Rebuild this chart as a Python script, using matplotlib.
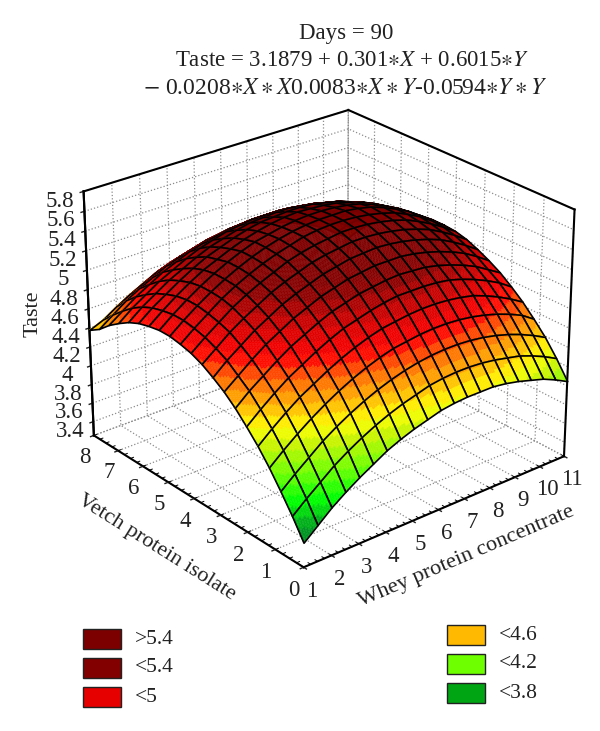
import numpy as np
import matplotlib
matplotlib.use("Agg")
import matplotlib.pyplot as plt
from matplotlib.colors import LinearSegmentedColormap, Normalize
from matplotlib.patches import Rectangle
from mpl_toolkits.mplot3d.art3d import Poly3DCollection

plt.rcParams['font.family'] = ['Liberation Serif', 'DejaVu Serif']
plt.rcParams['mathtext.fontset'] = 'stix'

# Surface nodes: whey protein 1..11 in 20 steps across, vetch protein 0..8 in 20 steps down.
whey = [1, 1.5, 2, 2.5, 3, 3.5, 4, 4.5, 5, 5.5, 6, 6.5, 7, 7.5, 8, 8.5, 9, 9.5, 10, 10.5, 11]
vetch = [0, .4, .8, 1.2, 1.6, 2, 2.4, 2.8, 3.2, 3.6, 4, 4.4, 4.8, 5.2, 5.6, 6, 6.4, 6.8, 7.2, 7.6, 8]
taste = [
 [3.50,3.62,3.74,3.84,3.93,4.01,4.09,4.15,4.20,4.24,4.28,4.30,4.31,4.31,4.31,4.29,4.26,4.22,4.18,4.12,4.05],
 [3.70,3.82,3.93,4.04,4.13,4.21,4.28,4.34,4.39,4.43,4.47,4.49,4.50,4.50,4.49,4.47,4.44,4.41,4.36,4.30,4.23],
 [3.88,4.00,4.11,4.22,4.31,4.39,4.46,4.52,4.57,4.61,4.64,4.66,4.67,4.67,4.66,4.64,4.61,4.57,4.52,4.46,4.39],
 [4.05,4.17,4.28,4.38,4.47,4.55,4.62,4.68,4.73,4.77,4.79,4.81,4.82,4.82,4.81,4.79,4.76,4.72,4.67,4.61,4.52],
 [4.20,4.32,4.43,4.53,4.61,4.69,4.76,4.82,4.87,4.91,4.93,4.95,4.96,4.96,4.95,4.93,4.90,4.85,4.79,4.72,4.64],
 [4.33,4.45,4.56,4.66,4.74,4.82,4.89,4.95,4.99,5.03,5.06,5.08,5.08,5.08,5.07,5.05,5.01,4.96,4.90,4.83,4.74],
 [4.45,4.57,4.67,4.77,4.86,4.93,5.00,5.06,5.10,5.14,5.16,5.18,5.19,5.18,5.17,5.14,5.10,5.05,4.99,4.91,4.83],
 [4.55,4.66,4.77,4.87,4.95,5.03,5.09,5.15,5.19,5.23,5.25,5.27,5.27,5.27,5.25,5.22,5.18,5.13,5.07,4.99,4.90],
 [4.63,4.75,4.85,4.95,5.03,5.11,5.17,5.22,5.27,5.30,5.33,5.34,5.35,5.34,5.32,5.29,5.25,5.20,5.13,5.05,4.96],
 [4.70,4.81,4.92,5.01,5.09,5.17,5.23,5.28,5.33,5.36,5.38,5.40,5.40,5.39,5.37,5.34,5.30,5.25,5.18,5.10,5.01],
 [4.75,4.86,4.96,5.06,5.14,5.21,5.27,5.33,5.37,5.40,5.42,5.44,5.44,5.43,5.41,5.38,5.34,5.28,5.21,5.13,5.04],
 [4.78,4.89,4.99,5.09,5.17,5.24,5.30,5.35,5.39,5.43,5.45,5.46,5.46,5.45,5.43,5.40,5.36,5.30,5.23,5.14,5.05],
 [4.80,4.91,5.01,5.10,5.18,5.25,5.31,5.36,5.40,5.43,5.45,5.46,5.46,5.46,5.44,5.41,5.36,5.30,5.23,5.14,5.05],
 [4.80,4.91,5.01,5.10,5.18,5.25,5.31,5.36,5.39,5.42,5.44,5.45,5.45,5.44,5.42,5.39,5.34,5.28,5.21,5.12,5.03],
 [4.78,4.89,4.99,5.08,5.16,5.22,5.28,5.33,5.37,5.40,5.42,5.43,5.42,5.41,5.39,5.35,5.31,5.25,5.17,5.08,4.99],
 [4.75,4.86,4.95,5.04,5.12,5.19,5.24,5.29,5.33,5.36,5.37,5.38,5.38,5.37,5.34,5.31,5.26,5.20,5.12,5.03,4.94],
 [4.70,4.81,4.90,4.99,5.06,5.13,5.19,5.23,5.27,5.30,5.31,5.32,5.32,5.30,5.28,5.24,5.19,5.13,5.06,4.96,4.87],
 [4.63,4.74,4.83,4.92,4.99,5.06,5.12,5.16,5.20,5.22,5.24,5.24,5.24,5.22,5.20,5.16,5.11,5.05,4.97,4.88,4.78],
 [4.55,4.65,4.75,4.83,4.91,4.97,5.03,5.07,5.10,5.13,5.14,5.15,5.14,5.13,5.10,5.07,5.01,4.95,4.87,4.77,4.68],
 [4.45,4.55,4.65,4.73,4.80,4.87,4.92,4.96,5.00,5.02,5.03,5.04,5.03,5.01,4.99,4.95,4.89,4.83,4.75,4.66,4.56],
 [4.38,4.44,4.53,4.61,4.68,4.75,4.80,4.84,4.87,4.90,4.91,4.91,4.90,4.89,4.86,4.82,4.76,4.70,4.62,4.52,4.42],
]
whey_ticks = [1, 2, 3, 4, 5, 6, 7, 8, 9, 10, 11]
vetch_ticks = [0, 1, 2, 3, 4, 5, 6, 7, 8]
taste_ticks = [3.4, 3.6, 3.8, 4, 4.2, 4.4, 4.6, 4.8, 5, 5.2, 5.4, 5.6, 5.8]
taste_labels = ['3.4', '3.6', '3.8', '4', '4.2', '4.4', '4.6', '4.8', '5', '5.2', '5.4', '5.6', '5.8']
legend_left = ['>5.4', '<5.4', '<5']
legend_left_colors = ['#7d0000', '#820000', '#e60000']
legend_right = ['<4.6', '<4.2', '<3.8']
legend_right_colors = ['#ffb900', '#6eff00', '#00a514']
band_levels = [3.4, 3.6, 3.8, 4.0, 4.2, 4.32, 4.48, 4.62, 4.78, 4.98, 5.18, 5.6]
band_colors = ['#006e32', '#00a01e', '#00ff00', '#6eff00', '#c8f500', '#ffff00',
               '#ffb400', '#ff6e00', '#ff0000', '#d20000', '#870000', '#780000']

W, H = 600, 731
fig = plt.figure(figsize=(W / 100, H / 100), dpi=100, facecolor='white')
S = 538
ax = fig.add_axes([51 / W, (H - 602) / H, S / W, S / H], projection='3d', computed_zorder=False)
ax.set_proj_type('persp', focal_length=0.95)
ax.view_init(elev=26.0, azim=-129.7)
ax.set_box_aspect((1, 1, 0.80))
ZLO, ZHI = 3.25, 5.8
ax.set_xlim(1, 11, view_margin=0)
ax.set_ylim(0, 8, view_margin=0)
ax.set_zlim(ZLO, ZHI, view_margin=0)
ax.patch.set_alpha(0)

ink = '#222222'
ax.set_xticks(whey_ticks)
ax.set_yticks(vetch_ticks)
ax.set_zticks(taste_ticks)
ax.set_zticklabels(taste_labels)
ax.set_xticklabels([str(v) for v in whey_ticks])
ax.set_yticklabels([str(v) for v in vetch_ticks])
ax.tick_params(labelsize=16.5, pad=-1, colors=ink)
ax.tick_params(axis='z', pad=2)
ax.set_xlabel('Whey protein concentrate', fontsize=16.2, labelpad=4, color=ink)
ax.set_ylabel('Vetch protein isolate', fontsize=16, labelpad=7, color=ink)
ax.zaxis.set_rotate_label(False)
ax.set_zlabel('Taste', fontsize=16, labelpad=3, rotation=90, color=ink)
for a in (ax.xaxis, ax.yaxis, ax.zaxis):
    a.set_pane_color((1, 1, 1, 0))
    a.pane.set_edgecolor((1, 1, 1, 0))
    a.line.set_color('black')
    a.line.set_linewidth(1.5)
    a._axinfo['grid'].update(color='#8c8c8c', linewidth=0.9, linestyle=':')
    a._axinfo['tick'].update(inward_factor=0.15, outward_factor=0.0)
    a._axinfo['tick']['linewidth'] = {True: 1.0, False: 0.6}
    a._axinfo['tick']['color'] = 'black'

edge = dict(color='black', lw=1.5, zorder=0.5)
ax.plot([11, 11], [0, 0], [ZLO, ZHI], **edge)
ax.plot([1, 1], [8, 8], [ZLO, ZHI], **edge)
ax.plot([1, 11], [8, 8], [ZHI, ZHI], **edge)
ax.plot([11, 11], [0, 8], [ZHI, ZHI], **edge)
soft = dict(color='#8c8c8c', lw=0.9, ls=':', zorder=0.4)
ax.plot([11, 11], [8, 8], [ZLO, ZHI], **soft)
ax.plot([1, 11], [8, 8], [ZLO, ZLO], **soft)
ax.plot([11, 11], [0, 8], [ZLO, ZLO], **soft)
# small ticks between the numbered ones
tick_minor = dict(color='black', lw=0.7, zorder=0.45)
for t in np.arange(1, 11.01, 0.25):
    ax.plot([t, t], [0, 0.09], [ZLO, ZLO], **tick_minor)
for t in np.arange(0, 8.01, 0.25):
    ax.plot([1, 1.11], [t, t], [ZLO, ZLO], **tick_minor)

cmap = LinearSegmentedColormap.from_list(
    'taste', [((l - band_levels[0]) / (band_levels[-1] - band_levels[0]), c)
              for l, c in zip(band_levels, band_colors)])
norm = Normalize(band_levels[0], band_levels[-1])

X = np.array(whey, float)
Y = np.array(vetch, float)
Z = np.array(taste, float)
N = 8
BAND = 0.08
w = np.linspace(0, 1, N + 1)
order = 1
for j in range(len(Y) - 2, -1, -1):
    for i in range(len(X) - 2, -1, -1):
        # shade one drawn cell: its corners are the table values, colour is stepped in bands
        polys, cols = [], []
        xs = X[i] + w * (X[i + 1] - X[i])
        ys = Y[j] + w * (Y[j + 1] - Y[j])
        zc = (Z[j, i] * np.outer(1 - w, 1 - w) + Z[j, i + 1] * np.outer(1 - w, w)
              + Z[j + 1, i] * np.outer(w, 1 - w) + Z[j + 1, i + 1] * np.outer(w, w))
        for a in range(N):
            for b in range(N):
                polys.append([(xs[b], ys[a], zc[a, b]), (xs[b + 1], ys[a], zc[a, b + 1]),
                              (xs[b + 1], ys[a + 1], zc[a + 1, b + 1]), (xs[b], ys[a + 1], zc[a + 1, b])])
                m = zc[a:a + 2, b:b + 2].mean()
                cols.append(cmap(norm(np.floor(m / BAND) * BAND + BAND / 2)))
        pc = Poly3DCollection(polys, facecolors=cols, edgecolors=cols, linewidths=0.25, zorder=order)
        ax.add_collection3d(pc, autolim=False)
        outline = [[(X[i], Y[j], Z[j, i]), (X[i + 1], Y[j], Z[j, i + 1]),
                    (X[i + 1], Y[j + 1], Z[j + 1, i + 1]), (X[i], Y[j + 1], Z[j + 1, i])]]
        ec = Poly3DCollection(outline, facecolors=(0, 0, 0, 0), edgecolors='black', linewidths=1.2, zorder=order + 0.5)
        ax.add_collection3d(ec, autolim=False)
        order += 1

# title
fig.text(346 / W, 1 - 33 / H, 'Days = 90', ha='center', va='center', fontsize=16.5, color=ink)
fig.text(352 / W, 1 - 61 / H, r'Taste = 3.1879 + 0.301$\ast X$ + 0.6015$\ast Y$', ha='center', va='center', fontsize=16.5, color=ink)
fig.text(345 / W, 1 - 88 / H, r'$-$ 0.0208$\ast X\ast X$0.0083$\ast X\ast Y$-0.0594$\ast Y\ast Y$', ha='center', va='center', fontsize=17, color=ink)

# legend
rows_left = [639, 668, 697]
rows_right = [635, 664, 693]
for lab, col, yy in zip(legend_left, legend_left_colors, rows_left):
    fig.patches.append(Rectangle((83 / W, 1 - (yy + 10) / H), 38 / W, 20 / H, transform=fig.transFigure,
                                 facecolor=col, edgecolor='#222222', lw=1.0))
    fig.text(135 / W, 1 - yy / H, lab, ha='left', va='center', fontsize=15.5, color=ink)
for lab, col, yy in zip(legend_right, legend_right_colors, rows_right):
    fig.patches.append(Rectangle((447 / W, 1 - (yy + 10) / H), 38 / W, 20 / H, transform=fig.transFigure,
                                 facecolor=col, edgecolor='#222222', lw=1.0))
    fig.text(499 / W, 1 - yy / H, lab, ha='left', va='center', fontsize=15.5, color=ink)

fig.savefig('out.png', dpi=100, facecolor='white')
